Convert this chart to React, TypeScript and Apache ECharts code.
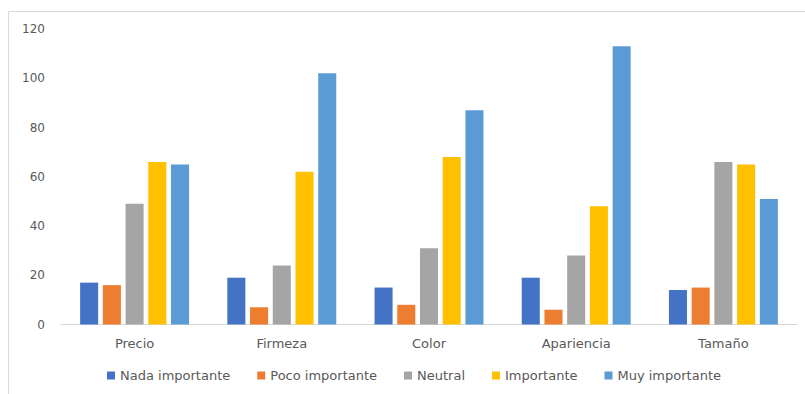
import React, { useEffect, useRef } from "react";
import * as echarts from "echarts";

const categories = ["Precio", "Firmeza", "Color", "Apariencia", "Tamaño"];
const seriesNames = ["Nada importante", "Poco importante", "Neutral", "Importante", "Muy importante"];
const nadaImportante = [17, 19, 15, 19, 14];
const pocoImportante = [16, 7, 8, 6, 15];
const neutral = [49, 24, 31, 28, 66];
const importante = [66, 62, 68, 48, 65];
const muyImportante = [65, 102, 87, 113, 51];
const seriesColors = ["#4472C4", "#ED7D31", "#A5A5A5", "#FFC000", "#5B9BD5"];

const FONT = "'DejaVu Sans', 'Open Sans', sans-serif";

export default function App() {
  const ref = useRef<HTMLDivElement>(null);

  useEffect(() => {
    document.body.style.margin = "0";
    const chart = echarts.init(ref.current!, null, { renderer: "svg" });
    const values = [nadaImportante, pocoImportante, neutral, importante, muyImportante];
    chart.setOption({
      animation: false,
      backgroundColor: "#ffffff",
      textStyle: { fontFamily: FONT },
      grid: { left: 61, right: 8, top: 29, bottom: 69.5, containLabel: false },
      graphic: [
        {
          type: "rect",
          shape: { x: 8.5, y: 11.5, width: 1000, height: 1000 },
          style: { fill: "none", stroke: "#d9d9d9", lineWidth: 1 },
          silent: true,
        },
      ],
      legend: {
        data: seriesNames,
        left: 107,
        top: 369,
        padding: 0,
        itemWidth: 8,
        itemHeight: 8,
        itemGap: 27,
        icon: "rect",
        textStyle: { fontFamily: FONT, fontSize: 13, color: "#595959" },
      },
      xAxis: {
        type: "category",
        data: categories,
        axisLine: { show: true, lineStyle: { color: "#d9d9d9", width: 1 } },
        axisTick: { show: false },
        axisLabel: { fontFamily: FONT, fontSize: 13, color: "#595959", margin: 12 },
      },
      yAxis: {
        type: "value",
        min: 0,
        max: 120,
        interval: 20,
        axisLine: { show: false },
        axisTick: { show: false },
        splitLine: { show: false },
        axisLabel: { fontFamily: FONT, fontSize: 12, color: "#595959", margin: 16 },
      },
      series: seriesNames.map((name, i) => ({
        name,
        type: "bar",
        data: values[i],
        itemStyle: { color: seriesColors[i] },
        barGap: "26%",
        barCategoryGap: "26%",
      })),
    });
    return () => chart.dispose();
  }, []);

  return <div ref={ref} style={{ width: 805, height: 394 }} />;
}
